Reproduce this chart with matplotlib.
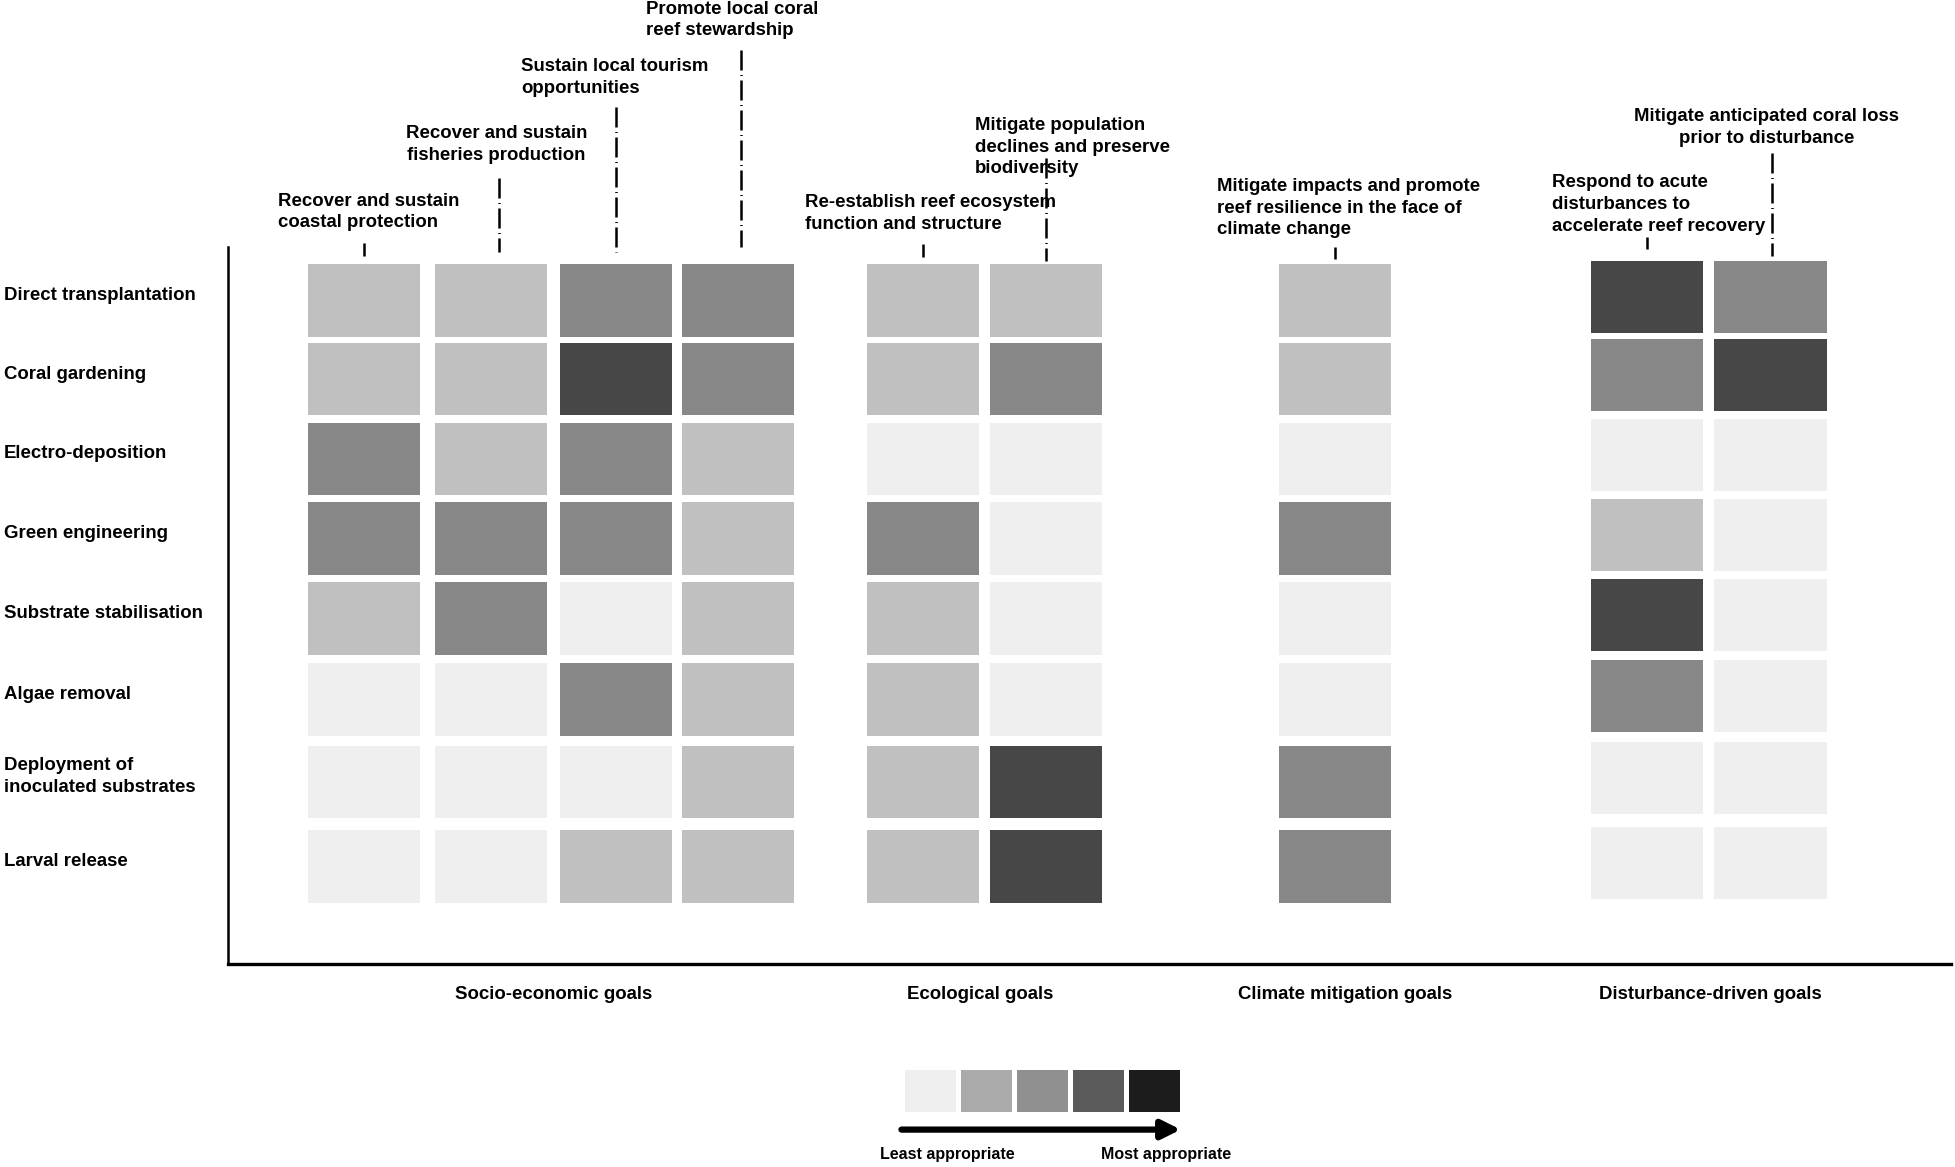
import matplotlib
matplotlib.use('Agg')
import matplotlib.pyplot as plt
from matplotlib.patches import Rectangle

plt.rcParams['font.family'] = ['Liberation Sans', 'DejaVu Sans']

# ---------------- data ----------------
methods = ["Direct transplantation", "Coral gardening", "Electro-deposition",
           "Green engineering", "Substrate stabilisation", "Algae removal",
           "Deployment of\ninoculated substrates", "Larval release"]

goals = ["Recover and sustain\ncoastal protection",
         "Recover and sustain\nfisheries production",
         "Sustain local tourism\nopportunities",
         "Promote local coral\nreef stewardship",
         "Re-establish reef ecosystem\nfunction and structure",
         "Mitigate population\ndeclines and preserve\nbiodiversity",
         "Mitigate impacts and promote\nreef resilience in the face of\nclimate change",
         "Respond to acute\ndisturbances to\naccelerate reef recovery",
         "Mitigate anticipated coral loss\nprior to disturbance"]

goal_groups = ["Socio-economic goals", "Ecological goals",
               "Climate mitigation goals", "Disturbance-driven goals"]
group_of_goal = [0, 0, 0, 0, 1, 1, 2, 3, 3]

# appropriateness score per method (rows) and goal (columns), 1 = least, 4 = most
scores = [
    [2, 2, 3, 3, 2, 2, 2, 4, 3],
    [2, 2, 4, 3, 2, 3, 2, 3, 4],
    [3, 2, 3, 2, 1, 1, 1, 1, 1],
    [3, 3, 3, 2, 3, 1, 3, 2, 1],
    [2, 3, 1, 2, 2, 1, 1, 4, 1],
    [1, 1, 3, 2, 2, 1, 1, 3, 1],
    [1, 1, 1, 2, 2, 4, 3, 1, 1],
    [1, 1, 2, 2, 2, 4, 3, 1, 1],
]

legend_levels = [1, 2, 3, 4, 5]
legend_labels = ["Least appropriate", "Most appropriate"]

# ---------------- styles / layout ----------------
cell_colors = {1: '#efefef', 2: '#c0c0c0', 3: '#878787', 4: '#474747'}
legend_colors = ['#efefef', '#aaaaaa', '#909090', '#5a5a5a', '#1c1c1c']

W, H = 1568.0, 936.0  # layout reference units
col_x = [292, 394, 494, 592, 740, 839, 1071, 1321, 1420]
leader_x = [292, 400, 494, 594, 740, 839, 1071, 1321, 1421]
row_y = [241, 304, 368, 432, 496, 561, 627, 695]
label_yoff = -4
group_yoff = [0, 0, 0, -3]
cell_w, cell_h = 90, 58

# goal label placement: (x, y-center of block, ha)
goal_text_pos = [(223, 170, 'left'), (398, 116, 'center'), (418, 62, 'left'),
                 (518, 16, 'left'), (646, 171, 'left'), (782, 118, 'left'),
                 (976, 167, 'left'), (1245, 164, 'left'), (1417, 102, 'center')]
leader_span = [(195, 205), (143, 202), (86, 202), (40, 198), (196, 206),
               (127, 209), (198, 208), (190, 200), (123, 205)]

group_label_x = [444, 786, 1079, 1372]

fig = plt.figure(figsize=(19.55, 11.67), dpi=100)
ax = fig.add_axes([183 / W, 1 - 773 / H, (1565 - 183) / W, (773 - 198) / H])
ax.set_xlim(183, 1565)
ax.set_ylim(773, 198)
ax.set_xticks([])
ax.set_yticks([])
for s in ['top', 'right']:
    ax.spines[s].set_visible(False)
ax.spines['left'].set_linewidth(1.8)
ax.spines['bottom'].set_linewidth(2.4)

FS = 13.4
LS = 1.36

# cells
for i, row in enumerate(scores):
    for j, v in enumerate(row):
        cy = row_y[i] + group_yoff[group_of_goal[j]]
        ax.add_patch(Rectangle((col_x[j] - cell_w / 2, cy - cell_h / 2), cell_w, cell_h,
                               facecolor=cell_colors[v], edgecolor='none'))

# method labels
for i, m in enumerate(methods):
    ax.text(3, row_y[i] + label_yoff, m, ha='left', va='center', fontsize=FS,
            fontweight='bold', clip_on=False, linespacing=LS)

# goal labels and leaders
for j, g in enumerate(goals):
    x, y, ha = goal_text_pos[j]
    ax.text(x, y, g, ha=ha, va='center', fontsize=FS, fontweight='bold',
            clip_on=False, linespacing=LS, multialignment='left' if ha == 'left' else 'center')
    y0, y1 = leader_span[j]
    ax.plot([leader_x[j], leader_x[j]], [y0, y1], color='black', lw=1.8,
            linestyle=(0, (8, 1.8, 0.4, 1.8)), clip_on=False)

# group labels
for k, gname in enumerate(goal_groups):
    ax.text(group_label_x[k], 798, gname, ha='center', va='center', fontsize=FS,
            fontweight='bold', clip_on=False)

# legend
leg_x0, leg_w, leg_gap = 726, 41, 3.8
for k, lv in enumerate(legend_levels):
    ax.add_patch(Rectangle((leg_x0 + k * (leg_w + leg_gap), 858), leg_w, 34,
                           facecolor=legend_colors[lv - 1], edgecolor='none',
                           clip_on=False))
ax.annotate('', xy=(947, 906), xytext=(723, 906), annotation_clip=False,
            arrowprops=dict(arrowstyle='-|>', lw=4.5, color='black',
                            mutation_scale=28, shrinkA=0, shrinkB=0))
ax.text(760, 926, legend_labels[0], ha='center', va='center', fontsize=11.5,
        fontweight='bold', clip_on=False)
ax.text(935, 926, legend_labels[1], ha='center', va='center', fontsize=11.5,
        fontweight='bold', clip_on=False)

fig.savefig('out.png', dpi=100)
